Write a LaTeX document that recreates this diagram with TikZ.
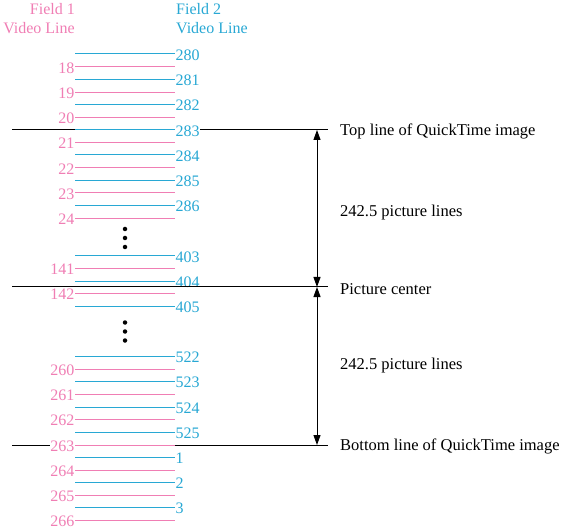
\documentclass[tikz,border=0pt]{standalone}
\usepackage{fontspec}
\setmainfont{Liberation Serif}
\usetikzlibrary{arrows.meta}
\definecolor{fpink}{RGB}{240,126,180}
\definecolor{fblue}{RGB}{40,168,212}
\tikzset{
  pl/.style={draw=fpink, line width=1pt},
  bl/.style={draw=fblue, line width=1pt},
  blk/.style={draw=black, line width=1pt},
  plab/.style={anchor=east, text=fpink, fill=white, inner sep=0.5pt, font=\fontsize{16}{18}\selectfont},
  blab/.style={anchor=west, text=fblue, fill=white, inner sep=0.5pt, font=\fontsize{16}{18}\selectfont},
  rlab/.style={anchor=west, inner sep=0pt, font=\fontsize{16.5}{18}\selectfont},
  hdr/.style={inner sep=0pt, font=\fontsize{16}{19}\selectfont, align=left},
  dimarr/.style={line width=1pt, {Triangle[width=7pt,length=10pt]}-{Triangle[width=7pt,length=10pt]}},
  vdot/.style={circle, fill=black, inner sep=0pt, minimum size=4.5pt}
}
\begin{document}
\begin{tikzpicture}[x=1pt,y=-1pt]
\useasboundingbox (0,0) rectangle (563,532);
% headers
\node[hdr, anchor=north east, text=fpink, align=right] (h1) at (75,3) {Field 1\\Video Line};
\node[hdr, anchor=north west, text=fblue] (h2) at (176,3) {Field 2\\Video Line};
% black reference lines
\coordinate (tL) at (12,130); \coordinate (tR) at (328,130);
\coordinate (bL) at (12,445); \coordinate (bR) at (328,445);
\draw[blk] (tL) -- (tR);
\draw[blk] (bL) -- (bR);
% field 2 (blue) lines
\foreach \y/\t in {54/280,79.3/281,104.5/282,130/283,155/284,180.3/285,205.5/286,256/403,281.2/404,306.3/405,356.5/522,381.7/523,407/524,432/525,457.3/1,482.5/2,507.7/3}{
  \coordinate (bs\t) at (75,\y);
  \node[blab] (b\t) at (175,\y+1) {\t};
  \draw[bl] (bs\t) -- (b\t.west |- bs\t);
}
% field 1 (pink) lines
\foreach \y/\t in {67/18,92.2/19,117.4/20,142.6/21,167.8/22,193/23,218.2/24,268.5/141,293.6/142,369/260,394.2/261,419.4/262,445/263,470/264,495.2/265,520.4/266}{
  \coordinate (pe\t) at (175,\y);
  \node[plab] (p\t) at (75,\y+1) {\t};
  \draw[pl] (p\t.east |- pe\t) -- (pe\t);
}
% center line on top
\coordinate (cL) at (12,287); \coordinate (cR) at (328,287);
\draw[blk] (cL) -- (cR);
% vertical dots
\node[vdot] (d1) at (125,229) {};
\node[vdot] (d2) at (125,238) {};
\node[vdot] (d3) at (125,247) {};
\node[vdot] (d4) at (125,322.5) {};
\node[vdot] (d5) at (125,331.5) {};
\node[vdot] (d6) at (125,340.5) {};
% dimension arrows
\coordinate (a1) at (317,130);
\coordinate (a2) at (317,287);
\coordinate (a3) at (317,445);
\draw[dimarr] (a1) -- (a2);
\draw[dimarr] (a2) -- (a3);
% right labels
\node[rlab] (r1) at (340,131) {Top line of QuickTime image};
\node[rlab] (r2) at (340,213) {242.5 picture lines};
\node[rlab] (r3) at (340,289) {Picture center};
\node[rlab] (r4) at (340,366) {242.5 picture lines};
\node[rlab] (r5) at (340,446) {Bottom line of QuickTime image};
\end{tikzpicture}
\end{document}
